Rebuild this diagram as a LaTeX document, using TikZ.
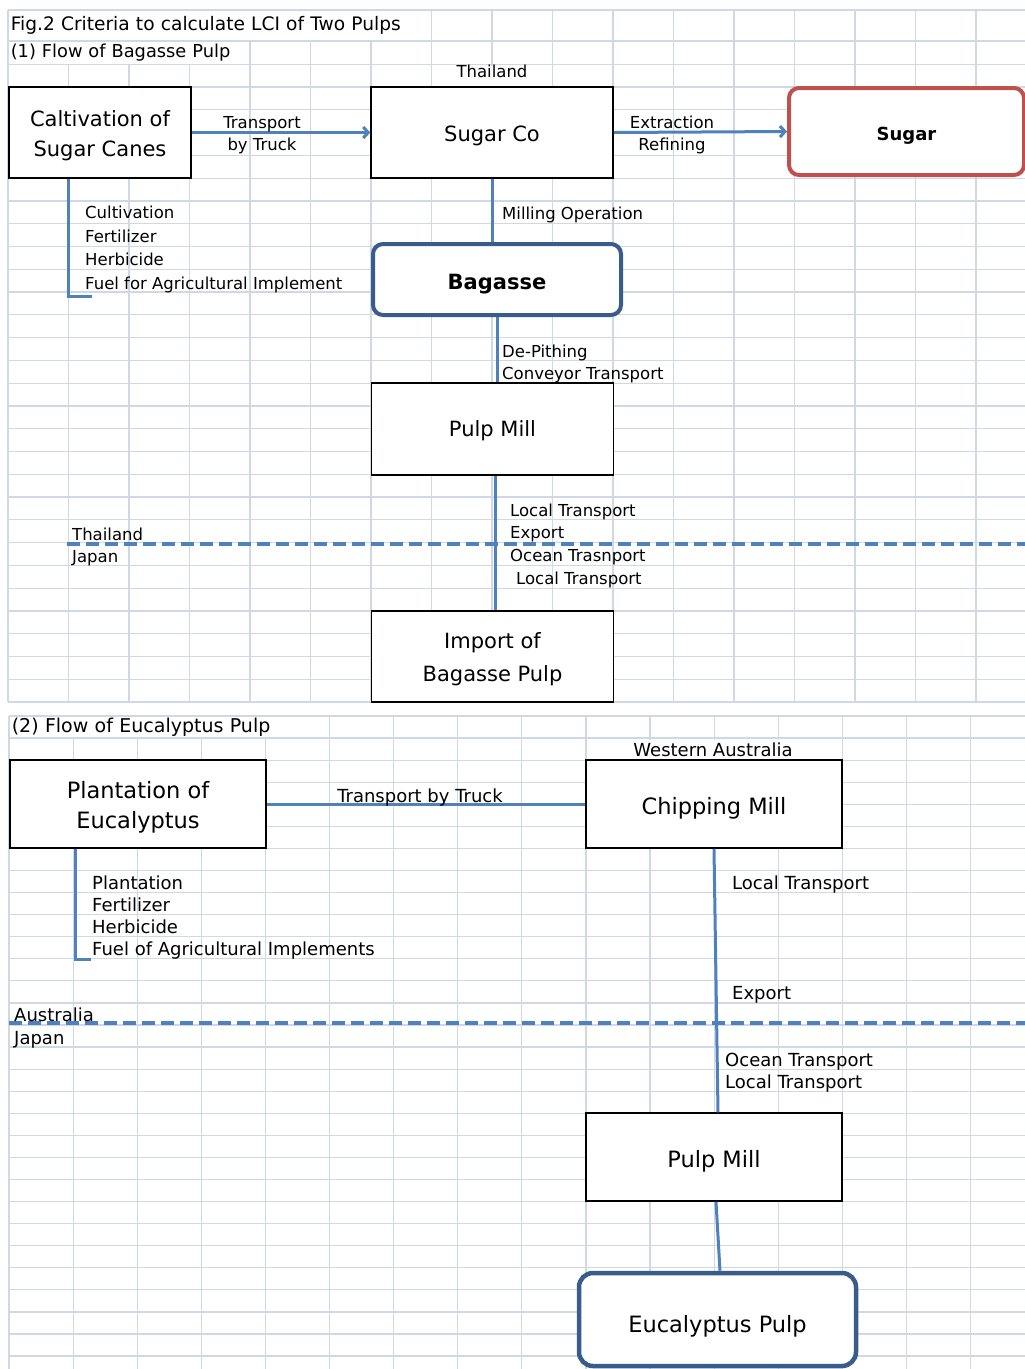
\documentclass[tikz,border=0pt]{standalone}
\usepackage{fontspec}
\setmainfont{DejaVu Sans}
\usetikzlibrary{arrows.meta}
\usetikzlibrary{positioning}

\definecolor{gridc}{RGB}{208,215,229}
\definecolor{flowblue}{RGB}{79,129,189}
\definecolor{boxblue}{RGB}{56,93,138}
\definecolor{sugarred}{RGB}{192,80,77}

\newcommand{\pxfont}[2]{\fontsize{#1}{#2}\selectfont}
\newcommand{\lift}[1]{\rule{0pt}{#1pt}}

\tikzset{
  gridline/.style={draw=gridc, line width=1.2pt},
  cover/.style={anchor=west, fill=white, inner xsep=2pt, inner ysep=0pt, align=left},
  procbox/.style={draw=black, line width=1.5pt, fill=white, inner sep=0pt, align=center},
  prodbox/.style={draw=boxblue, line width=4pt, rounded corners=10pt, fill=white, inner sep=0pt},
  sugarbox/.style={draw=sugarred, line width=4pt, rounded corners=10pt, fill=white, inner sep=0pt},
  flow/.style={draw=flowblue, line width=3pt},
  flowarrow/.style={flow, -{Straight Barb[length=5pt,width=11pt]}},
  border/.style={draw=flowblue, line width=3.5pt, dash pattern=on 13pt off 6pt},
  lbl/.style={anchor=west, inner sep=0pt, align=left},
  clbl/.style={inner sep=0pt, align=center}
}

\begin{document}
\begin{tikzpicture}[x=1pt,y=-1pt]
  \useasboundingbox (0,0) rectangle (1025,1369);
  \fill[white] (0,0) rectangle (1025,1369);

  % (1) bagasse sheet: grid
  \foreach \yy in {10,41,64.5}
    \draw[gridline] (8,\yy) -- (1025,\yy);
  \foreach \k in {0,...,27}
    \draw[gridline] (8,{87+22.78*\k}) -- (1025,{87+22.78*\k});
  \foreach \k in {0,...,17}
    \draw[gridline] ({8+60.5*\k},10) -- ({8+60.5*\k},702);

  % (2) eucalyptus sheet: grid
  \foreach \k in {0,...,29}
    \draw[gridline] (9,{716+22.07*\k}) -- (1025,{716+22.07*\k});
  \foreach \k in {0,...,16}
    \draw[gridline] ({9+64.1*\k},716) -- ({9+64.1*\k},1369);

  % headings
  \node[cover, text width=418pt, minimum height=29pt, font=\pxfont{18.6}{21}] (title) at (8.6,25.5)
    {\mbox{Fig.2 Criteria to calculate LCI of Two Pulps}};
  \node[cover, text width=236pt, minimum height=22pt, font=\pxfont{17.8}{21}] (headbag) at (8.6,52.8)
    {\mbox{(1) Flow of Bagasse Pulp}};
  \node[cover, text width=252pt, minimum height=20pt, font=\pxfont{19}{21}] (headeuc) at (9.6,727)
    {\mbox{(2) Flow of Eucalyptus Pulp}};

  % (1) flow of bagasse pulp
  \node[clbl, fill=white, minimum width=120pt, minimum height=20pt, text height=0.6em, text depth=0.4em,
    font=\pxfont{16.5}{20}] (thai) at (492,76) {Thailand};
  \node[procbox, minimum width=182pt, minimum height=91pt, font=\pxfont{21}{30}] (cane) at (100,132.5)
    {\lift{22}Caltivation of\\Sugar Canes};
  \node[procbox, minimum width=242pt, minimum height=91pt, font=\pxfont{21}{24}] (sugarco) at (492,132.5)
    {\lift{22}Sugar Co};
  \node[sugarbox, minimum width=235pt, minimum height=87pt, font=\pxfont{18}{20}\bfseries] (sugar) at (906.5,131.5)
    {\lift{21}Sugar};
  \node[prodbox, minimum width=248pt, minimum height=71pt, font=\pxfont{21}{24}\bfseries] (bagasse) at (497,279.5)
    {\lift{24}Bagasse};
  \node[procbox, minimum width=242pt, minimum height=92pt, font=\pxfont{21}{24}] (pulpbag) at (492.5,429)
    {\lift{20}Pulp Mill};
  \node[procbox, minimum width=242pt, minimum height=91pt, font=\pxfont{21}{33}] (import) at (492.5,656.5)
    {\lift{22}Import of\\Bagasse Pulp};

  \draw[flowarrow] (cane.east) -- (sugarco.west);
  \draw[flowarrow] (sugarco.east) -- (sugar.west);
  \coordinate (canefoot) at (68,296);
  \draw[flow] (canefoot |- cane.south) -- (canefoot) -- ++(24,0);
  \draw[flow] (sugarco.south) -- (sugarco.south |- bagasse.north);
  \draw[flow] (bagasse.south) -- (bagasse.south |- pulpbag.north);
  \draw[flow] ([xshift=2.5pt]pulpbag.south) -- ([xshift=2.5pt]import.north);
  \coordinate (thjp) at (67,544);
  \draw[border] (thjp) -- (1025,544);

  \node[clbl, font=\pxfont{16.5}{22}] (truck) at (262,135) {Transport\\by Truck};
  \node[clbl, font=\pxfont{16.5}{22}] (refine) at (672,135) {Extraction\\Refining};
  \node[lbl, font=\pxfont{16.5}{23.7}] (caneinput) at (85,249.5)
    {Cultivation\\Fertilizer\\Herbicide\\Fuel for Agricultural Implement};
  \node[lbl, font=\pxfont{16.5}{20}] (milling) at (502,214.5) {Milling Operation};
  \node[lbl, font=\pxfont{16.5}{22}] (pithing) at (502,364) {De-Pithing\\Conveyor Transport};
  \node[lbl, font=\pxfont{16.5}{22.7}] (exportbag) at (510,545.5)
    {Local Transport\\Export\\Ocean Trasnport\\\hspace*{6pt}Local Transport};
  \node[lbl, font=\pxfont{16.5}{22}] (thjplbl) at (72,546.5) {Thailand\\Japan};

  % (2) flow of eucalyptus pulp
  \node[clbl, fill=white, minimum width=190pt, minimum height=19pt, font=\pxfont{18}{20}] (wa) at (713,749.5)
    {Western Australia};
  \node[procbox, minimum width=256pt, minimum height=88pt, font=\pxfont{22.5}{30}] (plant) at (138,804)
    {\lift{23}Plantation of\\Eucalyptus};
  \node[procbox, minimum width=256pt, minimum height=88pt, font=\pxfont{22.5}{26}] (chip) at (714,804)
    {\lift{25}Chipping Mill};
  \node[procbox, minimum width=256pt, minimum height=88pt, font=\pxfont{22.5}{26}] (pulpeuc) at (714,1157)
    {\lift{25}Pulp Mill};
  \node[prodbox, line width=4.5pt, rounded corners=14pt, minimum width=277pt, minimum height=93pt,
    font=\pxfont{22.5}{26}] (eucpulp) at (717.5,1319.5) {\lift{30}Eucalyptus Pulp};

  \draw[flow] (plant.east) -- (chip.west);
  \coordinate (plantfoot) at (75,959);
  \draw[flow] (plantfoot |- plant.south) -- (plantfoot) -- ++(16,0);
  \draw[flow] (chip.south) -- ([xshift=4pt]pulpeuc.north);
  \draw[flow] ([xshift=2pt]pulpeuc.south) -- ([xshift=2.5pt]eucpulp.north);
  \coordinate (aujp) at (9,1023);
  \draw[border] (aujp) -- (1025,1023);

  \node[clbl, font=\pxfont{18}{20}] (trucklbl) at (420,797.5) {Transport by Truck};
  \node[lbl, font=\pxfont{18}{22}] (plantinput) at (92,918)
    {Plantation\\Fertilizer\\Herbicide\\Fuel of Agricultural Implements};
  \node[lbl, font=\pxfont{18}{20}] (localeuc) at (732,884.5) {Local Transport};
  \node[lbl, font=\pxfont{18}{20}] (exporteuc) at (732,994.5) {Export};
  \node[lbl, font=\pxfont{18}{22}] (oceaneuc) at (725,1073) {Ocean Transport\\Local Transport};
  \node[lbl, font=\pxfont{18}{23}] (aujplbl) at (14,1028.5) {Australia\\Japan};
\end{tikzpicture}
\end{document}
